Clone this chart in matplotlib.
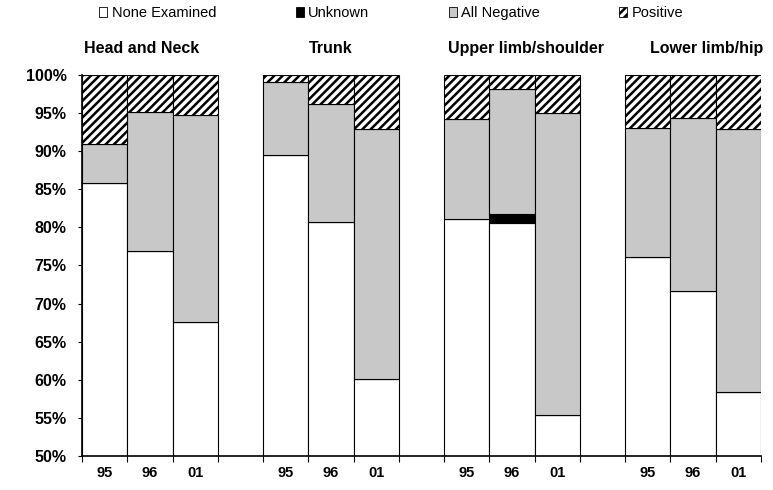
import numpy as np
import matplotlib
matplotlib.use("Agg")
import matplotlib.pyplot as plt
from matplotlib.patches import Patch
import matplotlib.transforms as mtransforms

plt.rcParams["font.family"] = ["Liberation Sans", "DejaVu Sans"]
plt.rcParams["hatch.linewidth"] = 1.8

groups = ["Head and Neck", "Trunk", "Upper limb/shoulder", "Lower limb/hip"]
years = ["95", "96", "01"]

# percentages per bar, in group order (95, 96, 01 for each group)
none_examined = [85.8, 76.9, 67.6, 89.5, 80.7, 60.1, 81.1, 80.6, 55.4, 76.1, 71.7, 58.4]
unknown = [0, 0, 0, 0, 0, 0, 0, 1.2, 0, 0, 0, 0]
all_negative = [5.2, 18.2, 27.1, 9.6, 15.5, 32.8, 13.1, 16.4, 39.6, 16.9, 22.7, 34.5]
positive = [100 - a - b - c for a, b, c in zip(none_examined, unknown, all_negative)]

fig = plt.figure(figsize=(7.73, 4.9), dpi=100)
ax = fig.add_axes([0.1061, 0.0694, 0.8784, 0.7776])

x = np.array([g * 4 + i for g in range(len(groups)) for i in range(len(years))], dtype=float)
ne = np.array(none_examined)
un = np.array(unknown)
an = np.array(all_negative)
po = np.array(positive)

kw = dict(width=1.0, edgecolor="black", linewidth=0.8)
ax.bar(x, ne, color="white", label="None Examined", **kw)
ax.bar(x, un, bottom=ne, color="black", label="Unknown", **kw)
ax.bar(x, an, bottom=ne + un, color="#c8c8c8", label="All Negative", **kw)
ax.bar(x, po, bottom=ne + un + an, color="white", hatch="////", label="Positive", **kw)

ax.set_ylim(50, 100)
ax.set_xlim(-0.5, x[-1] + 0.5)
ax.set_yticks(np.arange(50, 101, 5))
ax.set_yticklabels([f"{v}%" for v in range(50, 101, 5)], fontsize=11.5, fontweight="bold")
ax.set_xticks(x)
ax.set_xticklabels(years * len(groups), fontsize=10.5, fontweight="bold")
ax.tick_params(axis="x", which="major", length=0, pad=7)
edges = sorted(set(list(x - 0.5) + list(x + 0.5)))
ax.set_xticks(edges, minor=True)
ax.tick_params(axis="x", which="minor", length=4, width=0.8, direction="out")
ax.tick_params(axis="y", length=3, width=0.8, direction="out", pad=8)

for s in ["top", "right"]:
    ax.spines[s].set_visible(False)
ax.spines["left"].set_linewidth(1.2)
ax.spines["bottom"].set_linewidth(1.2)

# group titles sit a little off the group centres in the original
title_shift = [-0.18, 0.0, 0.31, 0.3]
trans = mtransforms.blended_transform_factory(ax.transData, ax.transAxes)
for g, name in enumerate(groups):
    ax.text(g * 4 + 1 + title_shift[g], 1.069, name, transform=trans,
            ha="center", va="center", fontsize=11.5, fontweight="bold")

handles = [
    Patch(facecolor="white", edgecolor="black", linewidth=0.6, label="None Examined"),
    Patch(facecolor="black", edgecolor="black", linewidth=0.6, label="Unknown"),
    Patch(facecolor="#c8c8c8", edgecolor="black", linewidth=0.6, label="All Negative"),
    Patch(facecolor="white", edgecolor="black", linewidth=0.6, hatch="////", label="Positive"),
]
fig.legend(handles=handles, loc="center", bbox_to_anchor=(0.506, 0.973), ncol=4,
           frameon=False, fontsize=10.5, handlelength=0.55, handleheight=0.6,
           handletextpad=0.3, columnspacing=5.45)

fig.savefig("out.png", dpi=100)
